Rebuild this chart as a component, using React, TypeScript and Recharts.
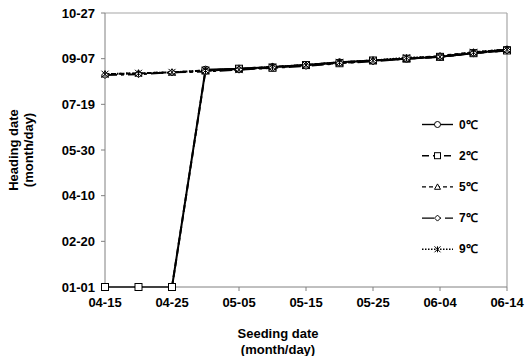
import React from 'react'
import {
  LineChart, Line, XAxis, YAxis, ReferenceLine, Label
} from 'recharts'

// seeding dates every 5 days; heading dates as day index from 01-01 (leap year)
const seedDates = ['04-15', '04-20', '04-25', '04-30', '05-05', '05-10', '05-15', '05-20', '05-25', '05-30', '06-04', '06-09', '06-14']
const temp0 = [0, 0, 0, 238, 239, 241, 243, 246, 248, 250, 252, 256, 260]
const temp2 = [0, 0, 0, 237, 239, 240, 243, 245, 248, 250, 252, 256, 259]
const temp5 = [233, 234, 235, 237, 239, 241, 243, 246, 248, 250, 253, 257, 260]
const temp7 = [232, 233, 235, 236, 238, 240, 242, 245, 247, 250, 252, 256, 259]
const temp9 = [233, 234, 235, 237, 238, 241, 243, 246, 248, 251, 252, 257, 260]

const headingTicks = [0, 50, 100, 150, 200, 250, 300]
const headingLabels = ['01-01', '02-20', '04-10', '05-30', '07-19', '09-07', '10-27']

const FONT = '"Liberation Sans", Arial, sans-serif'

const series = [
  { key: 't0', name: '0℃', shape: 'circle', dash: undefined },
  { key: 't2', name: '2℃', shape: 'square', dash: '7 4' },
  { key: 't5', name: '5℃', shape: 'triangle', dash: '4 3' },
  { key: 't7', name: '7℃', shape: 'diamond', dash: '12 4 3 4' },
  { key: 't9', name: '9℃', shape: 'star', dash: '1.5 1.5' },
]

const chartData = seedDates.map((d, i) => ({
  seed: d,
  t0: temp0[i],
  t2: temp2[i],
  t5: temp5[i],
  t7: temp7[i],
  t9: temp9[i],
}))

function Marker({ shape, cx, cy, s = 3.5 }: { shape: string; cx: number; cy: number; s?: number }) {
  const st = { fill: '#fff', stroke: '#000', strokeWidth: 1 }
  if (shape === 'circle') return <circle cx={cx} cy={cy} r={s} {...st} />
  if (shape === 'square') return <rect x={cx - s} y={cy - s} width={s * 2} height={s * 2} {...st} />
  if (shape === 'triangle')
    return <polygon points={`${cx},${cy - s} ${cx + s},${cy + s * 0.8} ${cx - s},${cy + s * 0.8}`} {...st} />
  if (shape === 'diamond')
    return <polygon points={`${cx},${cy - s} ${cx + s},${cy} ${cx},${cy + s} ${cx - s},${cy}`} {...st} />
  return (
    <g stroke="#000" strokeWidth={1}>
      <line x1={cx - s} y1={cy - s} x2={cx + s} y2={cy + s} />
      <line x1={cx - s} y1={cy + s} x2={cx + s} y2={cy - s} />
      <line x1={cx} y1={cy - s} x2={cx} y2={cy + s} />
    </g>
  )
}

// legend drawn as an overlay inside the plot area
const LegendBox = () => (
  <svg width={80} height={150} style={{ position: 'absolute', left: 420, top: 114 }}>
    {series.map((s, i) => {
      const y = 10.5 + i * 31.2
      return (
        <g key={s.key}>
          <line x1={2} x2={33} y1={y} y2={y} stroke="#000" strokeWidth={1.4} strokeDasharray={s.dash} />
          <Marker shape={s.shape} cx={17.5} cy={y} s={3} />
          <text x={39} y={y} dominantBaseline="central" fontFamily={FONT} fontWeight="bold" fontSize={12} fill="#000">
            {s.name}
          </text>
        </g>
      )
    })}
  </svg>
)

const XTitle = ({ viewBox }: any) => {
  const cx = viewBox.x + viewBox.width / 2 - 28
  return (
    <g fontFamily={FONT} fontWeight="bold" fontSize={13} fill="#000" textAnchor="middle">
      <text x={cx} y={333} dominantBaseline="central">Seeding date</text>
      <text x={cx} y={349} dominantBaseline="central">(month/day)</text>
    </g>
  )
}

const YTitle = () => (
  <g fontFamily={FONT} fontWeight="bold" fontSize={13} fill="#000" textAnchor="middle">
    <text x={13} y={150} dominantBaseline="central" transform="rotate(-90 13 150)">Heading date</text>
    <text x={28} y={150} dominantBaseline="central" transform="rotate(-90 28 150)">(month/day)</text>
  </g>
)

export default function App() {
  const tickStyle = { fontSize: 13, fontWeight: 'bold', fill: '#000', fontFamily: FONT }
  return (
    <div style={{ position: 'fixed', left: 0, top: 0, width: 525, height: 356, background: '#fff' }}>
      <LineChart width={525} height={356} data={chartData} margin={{ top: 13, right: 18, bottom: 0, left: 0 }}>
        <XAxis
          dataKey="seed"
          interval={1}
          height={69}
          tick={tickStyle}
          tickSize={4}
          tickMargin={7}
          stroke="#808080"
          padding={{ left: 0, right: 0 }}
        >
          <Label content={<XTitle />} />
        </XAxis>
        <YAxis
          type="number"
          domain={[0, 300]}
          ticks={headingTicks}
          tickFormatter={(v: number) => headingLabels[headingTicks.indexOf(v)] ?? ''}
          width={105}
          tick={tickStyle}
          tickSize={4}
          tickMargin={6}
          stroke="#808080"
          interval={0}
        >
          <Label content={<YTitle />} />
        </YAxis>
        <ReferenceLine y={300} stroke="#a6a6a6" strokeWidth={1.2} />
        <ReferenceLine x="06-14" stroke="#a6a6a6" strokeWidth={1.2} />
        {series.map(s => (
          <Line
            key={s.key}
            dataKey={s.key}
            name={s.name}
            stroke="#000"
            strokeWidth={2}
            strokeDasharray={s.dash}
            isAnimationActive={false}
            dot={(p: any) => <Marker key={`${s.key}-${p.index}`} shape={s.shape} cx={p.cx} cy={p.cy} />}
          />
        ))}
      </LineChart>
      <LegendBox />
    </div>
  )
}
